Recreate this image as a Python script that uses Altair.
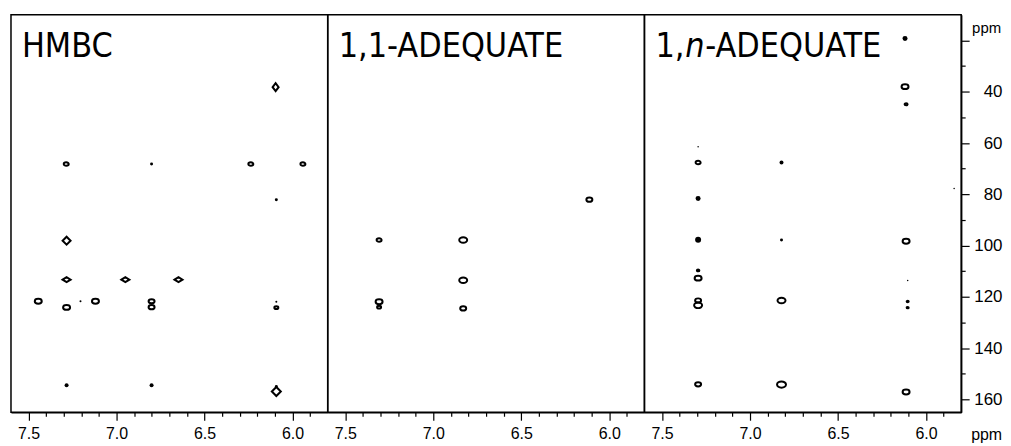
import altair as alt
import pandas as pd

# ---------------- data ----------------
# HMBC panel
hmbc_h = [6.096, 7.286, 6.801, 6.237, 5.941, 6.092, 7.284, 7.284, 6.950, 6.648,
          7.445, 7.205, 7.120, 7.284, 6.801, 6.801, 6.092, 6.092, 7.284, 6.801,
          6.092, 6.092]
hmbc_c = [38.2, 68.2, 68.2, 68.2, 68.2, 82.1, 98.1, 113.3, 113.3, 113.3,
          121.7, 121.7, 121.7, 124.1, 121.7, 124.0, 121.9, 124.2, 154.5, 154.5,
          155.0, 156.9]
hmbc_w = [8, 5, 3, 5, 5, 3, 8, 8, 8, 8,
          7, 2, 7, 7, 6, 6, 2, 4, 4, 4,
          3, 9]
hmbc_k = ["vdiamond", "oval", "dot", "oval", "oval", "dot", "diamond", "hdiamond", "hdiamond", "hdiamond",
          "oval", "dot", "oval", "oval", "oval", "oval", "dot", "oval", "dot", "dot",
          "dot", "diamond"]

# 1,1-ADEQUATE panel
a11_h = [6.113, 7.308, 6.830, 6.830, 7.308, 7.308, 6.830]
a11_c = [82.1, 97.8, 97.8, 113.5, 121.9, 124.0, 124.5]
a11_w = [6, 5, 8, 8, 7, 4, 6]
a11_k = ["oval", "oval", "oval", "oval", "oval", "oval", "oval"]

# 1,n-ADEQUATE panel
a1n_h = [6.119, 6.119, 6.113, 7.295, 7.295, 6.821, 5.840, 7.295, 7.295, 6.821,
         6.113, 7.295, 7.295, 6.104, 7.295, 7.295, 6.821, 6.104, 6.104, 7.295,
         6.821, 6.113]
a1n_c = [19.2, 38.0, 44.9, 61.4, 67.6, 67.6, 77.7, 81.6, 97.7, 97.8,
         98.3, 109.7, 112.7, 113.6, 121.4, 123.3, 121.4, 121.8, 124.2, 154.1,
         154.2, 157.1]
a1n_w = [5, 7, 3, 1.5, 5, 4, 1.5, 5, 6, 3,
         7, 2.5, 7, 1.5, 6, 8, 8, 2, 2, 6,
         9, 7]
a1n_k = ["dot", "oval", "oval", "dot", "oval", "dot", "dot", "dot", "dot", "dot",
         "oval", "oval", "oval", "dot", "oval", "oval", "oval", "oval", "oval", "oval",
         "oval", "oval"]

x_domain = [5.8, 7.6]
y_domain = [10, 165]
x_major = [7.5, 7.0, 6.5, 6.0]
x_ticks = [round(5.9 + 0.1 * i, 1) for i in range(17)]
y_ticks = [20, 30, 40, 50, 60, 70, 80, 90, 100, 110, 120, 130, 140, 150, 160]

# ---------------- styling ----------------
W, H = 318, 399
OVAL = "M-1,0A1,0.7,0,1,0,1,0A1,0.7,0,1,0,-1,0Z"
HDIAM = "M-1,0L0,-0.62L1,0L0,0.62Z"
VDIAM = "M-0.75,0L0,-1L0.75,0L0,1Z"
shape_scale = alt.Scale(domain=["oval", "hdiamond", "vdiamond", "diamond", "dot"],
                        range=[OVAL, HDIAM, VDIAM, "diamond", "circle"])
LABEL_FONT = "Liberation Sans"
TITLE_FONT = "DejaVu Sans Condensed"
x_major_js = "[" + ",".join(str(v) for v in x_major) + "]"
x_is_major = f"indexof({x_major_js}, datum.value) >= 0"
y_is_major = "datum.value % 20 == 0"


def make_df(h, c, w, k):
    return pd.DataFrame({"h": h, "c": c, "w": w, "k": k})


def panel(df, title_marks, right_axis):
    xs = alt.Scale(domain=x_domain, reverse=True, nice=False, zero=False)
    ys = alt.Scale(domain=y_domain, reverse=True, nice=False, zero=False)
    x_axis = alt.Axis(values=x_ticks,
                      tickSize={"condition": {"test": x_is_major, "value": 8}, "value": 4},
                      tickWidth=1.2, tickColor="black", domainColor="black", domainWidth=1.5,
                      labelExpr=f"{x_is_major} ? format(datum.value, '.1f') : ''",
                      labelOverlap=False, labelAlign="center",
                      labelFont=LABEL_FONT, labelFontSize=16, labelColor="black",
                      labelPadding=5, grid=False, title=None, orient="bottom",
                      labelFlush=False)
    if right_axis:
        y_axis = alt.Axis(values=y_ticks, orient="right",
                          tickSize={"condition": {"test": y_is_major, "value": 8}, "value": 4},
                          tickWidth=1.2, tickColor="black", domainColor="black", domainWidth=1.5,
                          labelFont=LABEL_FONT, labelFontSize=17, labelColor="black",
                          labelAlign="right", labelPadding=33,
                          grid=False, title=None, labelOverlap=False,
                          labelFlush=False,
                          labelExpr=f"({y_is_major}) && datum.value != 20 ? datum.label : ''")
    else:
        y_axis = None

    base = alt.Chart(df).transform_calculate(s="datum.w * datum.w").encode(
        x=alt.X("h:Q", scale=xs, axis=x_axis),
        y=alt.Y("c:Q", scale=ys, axis=y_axis),
        size=alt.Size("s:Q", scale=None),
    )
    rings = base.transform_filter("datum.k != 'dot'").mark_point(
        filled=False, color="black", strokeWidth=2, opacity=1
    ).encode(shape=alt.Shape("k:N", scale=shape_scale, legend=None))
    dots = base.transform_filter("datum.k == 'dot'").mark_point(
        filled=True, color="black", opacity=1, shape="circle"
    )
    return alt.layer(rings, dots, *title_marks).properties(width=W, height=H)


def label(text, px, py, size=34, style="normal", font=TITLE_FONT, baseline="alphabetic"):
    return alt.Chart(pd.DataFrame({"t": [text]})).mark_text(
        align="left", baseline=baseline, font=font, fontSize=size, fontStyle=style,
        color="black"
    ).encode(x=alt.value(px), y=alt.value(py), text="t:N")


p1 = panel(make_df(hmbc_h, hmbc_c, hmbc_w, hmbc_k),
           [label("HMBC", 11, 42)], False)
p2 = panel(make_df(a11_h, a11_c, a11_w, a11_k),
           [label("1,1-ADEQUATE", 11, 42)], False)
p3 = panel(make_df(a1n_h, a1n_c, a1n_w, a1n_k),
           [label("1,", 11, 42), label("n", 41, 42, style="italic"),
            label("-ADEQUATE", 61, 42),
            label("ppm", 329, 13, size=15, font=LABEL_FONT, baseline="middle"),
            label("ppm", 328, 427, size=16, font=LABEL_FONT)], True)

chart = alt.hconcat(p1, p2, p3, spacing=0, bounds="flush").properties(
    padding={"left": 2, "top": 5, "right": 0, "bottom": 0},
    background="white",
).configure_view(stroke="black", strokeWidth=1.5)

chart.save("out.html", embed_options={"renderer": "svg", "actions": False})
